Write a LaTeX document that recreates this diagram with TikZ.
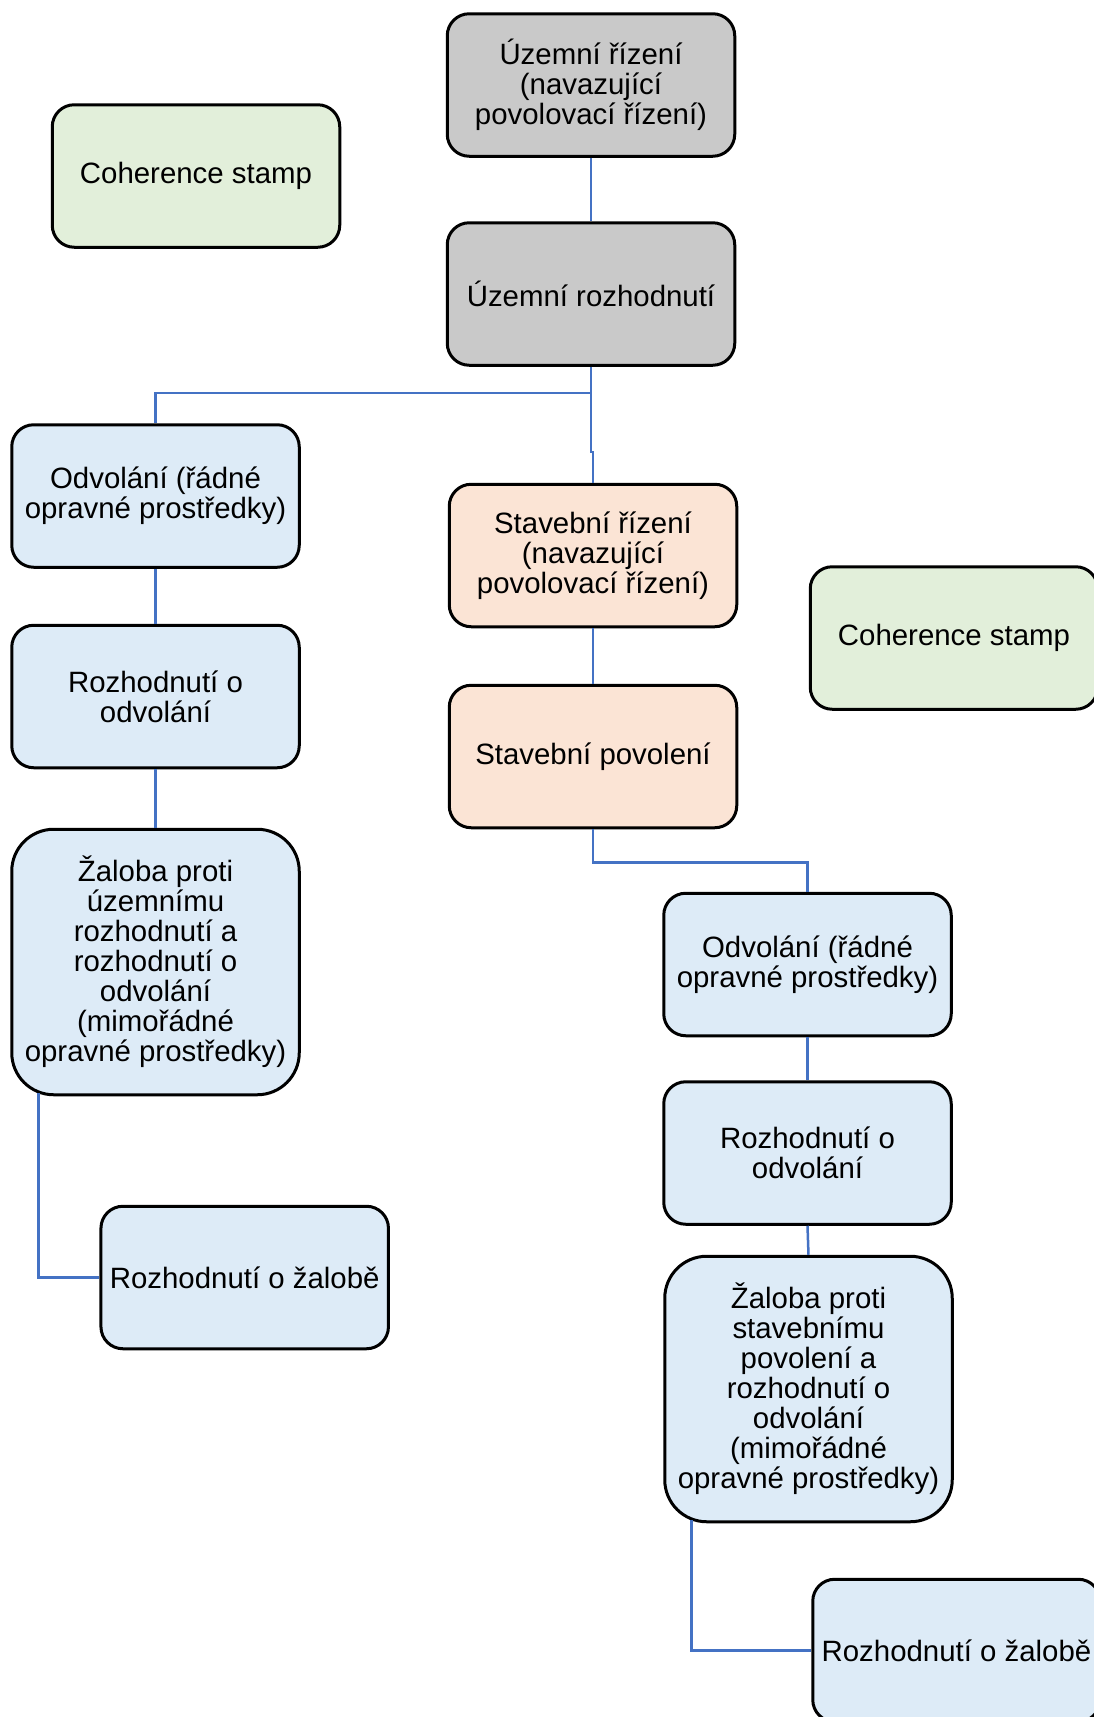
\documentclass[tikz,border=0pt]{standalone}
\usepackage{fontspec}
\setmainfont{Liberation Sans}
\definecolor{grayfill}{HTML}{C9C9C9}
\definecolor{greenfill}{HTML}{E2EFDA}
\definecolor{bluefill}{HTML}{DDEBF7}
\definecolor{peachfill}{HTML}{FBE4D5}
\definecolor{connblue}{HTML}{4472C4}
\tikzset{
  box/.style={draw=black, line width=3pt, rounded corners=22pt, align=center,
    inner sep=0pt, minimum width=287.5pt, minimum height=142.5pt,
    font=\fontsize{29.4}{30}\selectfont},
  tallbox/.style={box, rounded corners=42pt, minimum height=265.5pt},
  graybox/.style={box, fill=grayfill},
  greenbox/.style={box, fill=greenfill},
  bluebox/.style={box, fill=bluefill},
  peachbox/.style={box, fill=peachfill},
  conn/.style={draw=connblue, line width=2.5pt}
}
\begin{document}
\begin{tikzpicture}[x=1pt,y=-1pt]
\useasboundingbox (0,0) rectangle (1094,1717);
\fill[white] (0,0) rectangle (1094,1717);

\node[graybox] (uzr) at (591,85) {Územní řízení\\(navazující\\povolovací řízení)};
\node[graybox] (uzroz) at (591,294) {Územní rozhodnutí};
\node[greenbox] (coh1) at (196,176) {Coherence stamp};
\node[bluebox] (odvL) at (155.5,496) {Odvolání (řádné\\opravné prostředky)};
\node[bluebox] (rozL) at (155.5,696.5) {Rozhodnutí o\\odvolání};
\node[tallbox, fill=bluefill] (zalL) at (155.5,962) {Žaloba proti\\územnímu\\rozhodnutí a\\rozhodnutí o\\odvolání\\(mimořádné\\opravné prostředky)};
\node[bluebox] (rozzalL) at (244.7,1277.5) {Rozhodnutí o žalobě};
\node[peachbox] (stR) at (593,555.5) {Stavební řízení\\(navazující\\povolovací řízení)};
\node[peachbox] (stpov) at (593,756.5) {Stavební povolení};
\node[greenbox] (coh2) at (954,638) {Coherence stamp};
\node[bluebox] (odvR) at (807.5,964.5) {Odvolání (řádné\\opravné prostředky)};
\node[bluebox] (rozR) at (807.5,1153) {Rozhodnutí o\\odvolání};
\node[tallbox, fill=bluefill] (zalR) at (808.5,1389) {Žaloba proti\\stavebnímu\\povolení a\\rozhodnutí o\\odvolání\\(mimořádné\\opravné prostředky)};
\node[bluebox] (rozzalR) at (956.5,1650.5) {Rozhodnutí o žalobě};

\draw[conn] (uzr.south) -- (uzroz.north);
\draw[conn] (uzroz.south) -- ++(0,26) -| (odvL.north);
\draw[conn] (uzroz.south) -- ++(0,85) -| (stR.north);
\draw[conn] (odvL.south) -- (rozL.north);
\draw[conn] (rozL.south) -- (zalL.north);
\draw[conn] (zalL.south west) ++(28,-3) |- (rozzalL.west);
\draw[conn] (stR.south) -- (stpov.north);
\draw[conn] (stpov.south) -- ++(0,33) -| (odvR.north);
\draw[conn] (odvR.south) -- (rozR.north);
\draw[conn] (rozR.south) -- (zalR.north);
\draw[conn] (zalR.south west) ++(28,-3) |- (rozzalR.west);
\end{tikzpicture}
\end{document}
